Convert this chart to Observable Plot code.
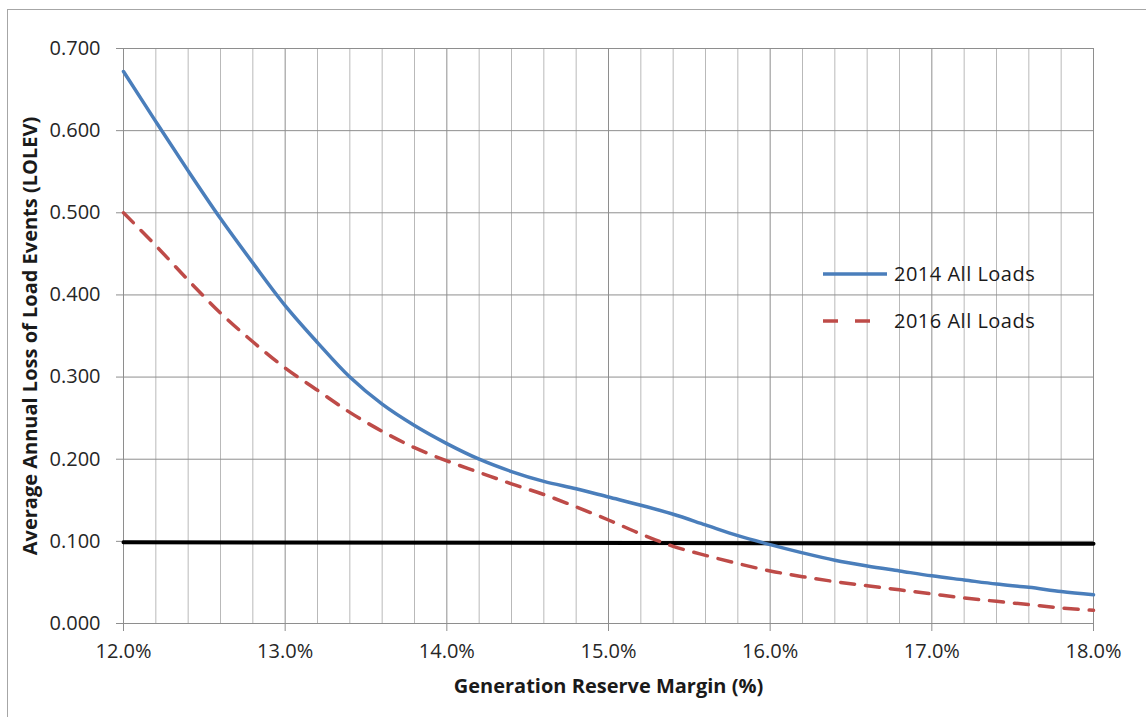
<!DOCTYPE html>
<html>
<head>
<meta charset="utf-8">
<script src="https://cdn.jsdelivr.net/npm/d3@7"></script>
<script src="https://cdn.jsdelivr.net/npm/@observablehq/plot@0.6"></script>
<style>
  html, body { margin: 0; padding: 0; background: #fff; overflow: hidden; }
  #wrap { position: relative; width: 1146px; height: 717px; }
  #frame { position: absolute; left: 7px; top: 9px; width: 1200px; height: 800px; border: 1.5px solid #a6a6a6; pointer-events: none; }
  #legend { position: absolute; left: 823px; top: 250px; font-family: "Open Sans", sans-serif; font-size: 20px; letter-spacing: 0.5px; color: #1a1a1a; }
  #legend .row { display: flex; align-items: center; height: 47px; }
  #legend svg { margin-right: 5px; }
  #chart svg { font-family: "Open Sans", sans-serif; }
</style>
</head>
<body>
<div id="wrap">
  <div id="chart"></div>
  <div id="frame"></div>
  <div id="legend"></div>
</div>
<script>
// Generation reserve margin (%)
const margin = [12.0,12.2,12.4,12.6,12.8,13.0,13.2,13.4,13.6,13.8,14.0,14.2,14.4,14.6,14.8,15.0,15.2,15.4,15.6,15.8,16.0,16.2,16.4,16.6,16.8,17.0,17.2,17.4,17.6,17.8,18.0];
// 2014 All Loads (LOLEV)
const lolev2014 = [0.672,0.611,0.551,0.493,0.439,0.387,0.342,0.300,0.267,0.241,0.219,0.200,0.185,0.173,0.164,0.154,0.144,0.133,0.120,0.107,0.096,0.086,0.077,0.070,0.064,0.058,0.053,0.048,0.044,0.039,0.035];
// 2016 All Loads (LOLEV)
const lolev2016 = [0.500,0.460,0.418,0.378,0.343,0.311,0.284,0.257,0.234,0.214,0.198,0.184,0.170,0.157,0.142,0.126,0.109,0.094,0.083,0.073,0.064,0.057,0.051,0.046,0.041,0.036,0.031,0.027,0.023,0.019,0.016];
// Criterion line (0.1 LOLEV)
const criterionX = [12.0, 18.0];
const criterionY = [0.099, 0.097];
// Tick values
const xMajorTicks = [12,13,14,15,16,17,18];
const xMinorTicks = [12.2,12.4,12.6,12.8,13.2,13.4,13.6,13.8,14.2,14.4,14.6,14.8,15.2,15.4,15.6,15.8,16.2,16.4,16.6,16.8,17.2,17.4,17.6,17.8];
const yTicks = [0,0.1,0.2,0.3,0.4,0.5,0.6,0.7];

const seriesNames = ["2014 All Loads", "2016 All Loads"];
const colors = {"2014 All Loads": "#4a7ebb", "2016 All Loads": "#be4b48"};

const d2014 = margin.map((m, i) => ({x: m, y: lolev2014[i]}));
const d2016 = margin.map((m, i) => ({x: m, y: lolev2016[i]}));
const dCrit = criterionX.map((m, i) => ({x: m, y: criterionY[i]}));

const chart = Plot.plot({
  width: 1146,
  height: 717,
  marginLeft: 123,
  marginRight: 53,
  marginTop: 48,
  marginBottom: 94,
  style: {fontFamily: "Open Sans, sans-serif", background: "transparent", overflow: "visible"},
  x: {domain: [12, 18], ticks: xMajorTicks, tickFormat: d => d.toFixed(1) + "%"},
  y: {domain: [0, 0.7], ticks: yTicks, tickFormat: d => d.toFixed(3)},
  marks: [
    Plot.gridX(xMinorTicks, {stroke: "#b9b9b9", strokeOpacity: 1, strokeWidth: 1}),
    Plot.gridX(xMajorTicks, {stroke: "#8e8e8e", strokeOpacity: 1, strokeWidth: 1}),
    Plot.gridY(yTicks, {stroke: "#8e8e8e", strokeOpacity: 1, strokeWidth: 1}),
    Plot.axisX({ticks: xMajorTicks, tickFormat: d => d.toFixed(1) + "%", tickSize: 8, tickPadding: 12, stroke: "#8e8e8e",
      fontSize: 20, fill: "#262626", label: null, style: {letterSpacing: "1px"}}),
    Plot.axisY({ticks: yTicks, tickFormat: d => d.toFixed(3), tickSize: 7, tickPadding: 16, stroke: "#8e8e8e",
      fontSize: 20, fill: "#262626", label: null, style: {letterSpacing: "1px"}}),
    Plot.ruleY([0], {stroke: "#8e8e8e"}),
    Plot.ruleX([12], {stroke: "#8e8e8e"}),
    Plot.line(dCrit, {x: "x", y: "y", stroke: "#000", strokeWidth: 4}),
    Plot.line(d2016, {x: "x", y: "y", stroke: colors["2016 All Loads"], strokeWidth: 3.5, strokeDasharray: "14,11", curve: "catmull-rom"}),
    Plot.line(d2014, {x: "x", y: "y", stroke: colors["2014 All Loads"], strokeWidth: 3.5, curve: "catmull-rom"}),
    Plot.text(["Generation Reserve Margin (%)"], {frameAnchor: "bottom", dy: 69, text: d => d, fontSize: 20, fontWeight: "bold", fill: "#1a1a1a"}),
    Plot.text(["Average Annual Loss of Load Events (LOLEV)"], {frameAnchor: "left", textAnchor: "middle", dx: -93, rotate: -90, text: d => d, fontSize: 20, fontWeight: "bold", fill: "#1a1a1a"})
  ]
});
document.getElementById("chart").appendChild(chart);

// Legend
const legend = document.getElementById("legend");
seriesNames.forEach((name, i) => {
  const row = document.createElement("div");
  row.className = "row";
  const dash = i === 1 ? 'stroke-dasharray="15,17"' : "";
  row.innerHTML = `<svg width="66" height="10"><line x1="0" y1="5" x2="64" y2="5" stroke="${colors[name]}" stroke-width="3.5" ${dash}/></svg><span>${name}</span>`;
  legend.appendChild(row);
});
</script>
</body>
</html>
